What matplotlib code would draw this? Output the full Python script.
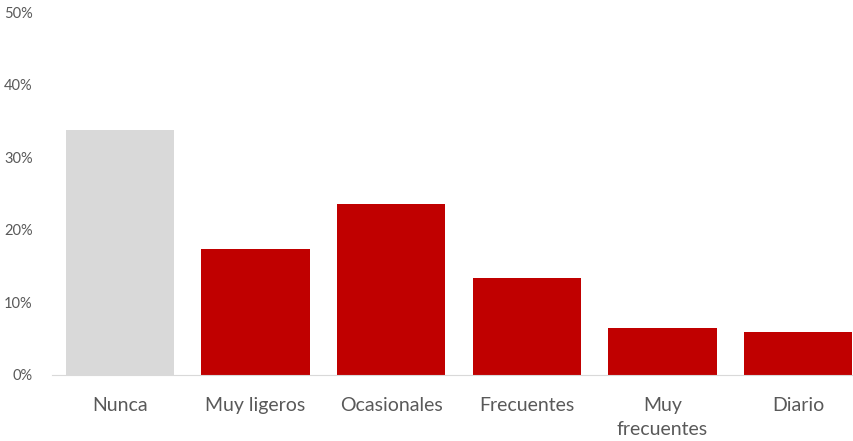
import numpy as np
import matplotlib.pyplot as plt
from matplotlib.ticker import FuncFormatter

# datos
categorias = ['Nunca', 'Muy ligeros', 'Ocasionales', 'Frecuentes', 'Muy\nfrecuentes', 'Diario']
valores = [33.8, 17.3, 23.5, 13.3, 6.5, 5.9]
colores = ['#D9D9D9', '#C00000', '#C00000', '#C00000', '#C00000', '#C00000']

plt.rcParams['font.family'] = ['Lato', 'DejaVu Sans']

fig = plt.figure(figsize=(8.54, 4.41), dpi=100)
ax = fig.add_axes([52/854, 1-375/441, 814/854, 363/441])

x = np.arange(len(categorias))
ax.bar(x, valores, width=0.8, color=colores)

ax.set_xlim(-0.5, len(categorias)-0.5)
ax.set_ylim(0, 50)
ax.set_yticks([0, 10, 20, 30, 40, 50])
ax.yaxis.set_major_formatter(FuncFormatter(lambda v, p: '%d%%' % v))
ax.set_xticks(x)
ax.set_xticklabels(categorias, fontsize=14, color='#595959', linespacing=1.5)
ax.tick_params(axis='x', length=0, pad=16)
ax.tick_params(axis='y', length=0, pad=14, labelsize=10.5, labelcolor='#595959')

for s in ['top', 'right', 'left']:
    ax.spines[s].set_visible(False)
ax.spines['bottom'].set_color('#D9D9D9')

fig.savefig('out.png', dpi=100)
